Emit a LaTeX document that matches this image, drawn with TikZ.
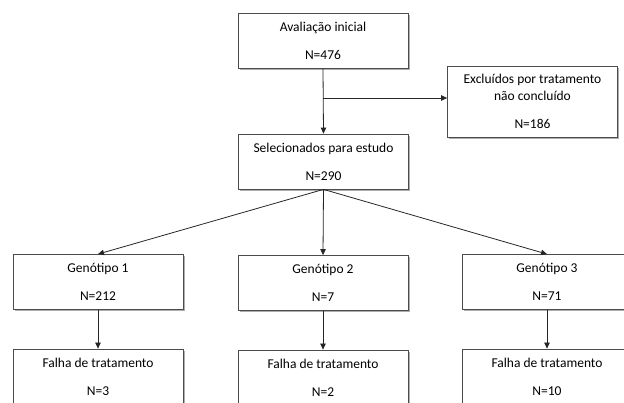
\documentclass[tikz,border=0pt]{standalone}
\usepackage{fontspec}
\setmainfont{Carlito}
\usetikzlibrary{positioning,shadows,arrows.meta,calc}

\tikzset{
  caixa/.style={draw=black!70, line width=0.8pt, fill=white, minimum width=170pt, minimum height=55pt,
    align=center, inner sep=0pt, font=\fontsize{13.5}{17}\selectfont,
    drop shadow={shadow xshift=1.6pt, shadow yshift=-1.8pt, fill=black!45, opacity=0.7}},
  seta/.style={draw=black!85, line width=0.8pt, -{Triangle[length=6pt,width=5.5pt]}}
}

\begin{document}
\begin{tikzpicture}[x=1pt,y=-1pt]
                \useasboundingbox (0,0) rectangle (624,403);

                \node[caixa] (aval) at (323,41) {Avaliação inicial\\[11pt]N=476};
                \node[caixa, minimum height=71pt] (excl) at (532.5,101.5)
                    {Excluídos por tratamento\\não concluído\\[11pt]N=186};
                \node[caixa] (sel) at (323.5,161.5) {Selecionados para estudo\\[11pt]N=290};

                \node[caixa] (gen1) at (98,282) {Genótipo 1\\[11pt]N=212};
                \node[caixa] (gen2) at (323,283) {Genótipo 2\\[11pt]N=7};
                \node[caixa] (gen3) at (547,282) {Genótipo 3\\[11pt]N=71};

                \node[caixa] (falha1) at (98,376.5) {Falha de tratamento\\[11pt]N=3};
                \node[caixa] (falha2) at (323,377.5) {Falha de tratamento\\[11pt]N=2};
                \node[caixa] (falha3) at (547,376.5) {Falha de tratamento\\[11pt]N=10};

                % avaliacao -> selecionados, com ramo para excluidos
                \coordinate (ramo) at ($(aval.south)!0.45!(sel.north)$);
                \draw[seta] (aval.south) -- (sel.north);
                \draw[seta] (ramo) -- (ramo -| excl.west);

                % genotipos
                \draw[seta] (sel.south) -- (gen1.north);
                \draw[seta] (sel.south) -- (gen2.north);
                \draw[seta] (sel.south) -- (gen3.north);

                \draw[seta] (gen1.south) -- (falha1.north);
                \draw[seta] (gen2.south) -- (falha2.north);
                \draw[seta] (gen3.south) -- (falha3.north);
\end{tikzpicture}
\end{document}
